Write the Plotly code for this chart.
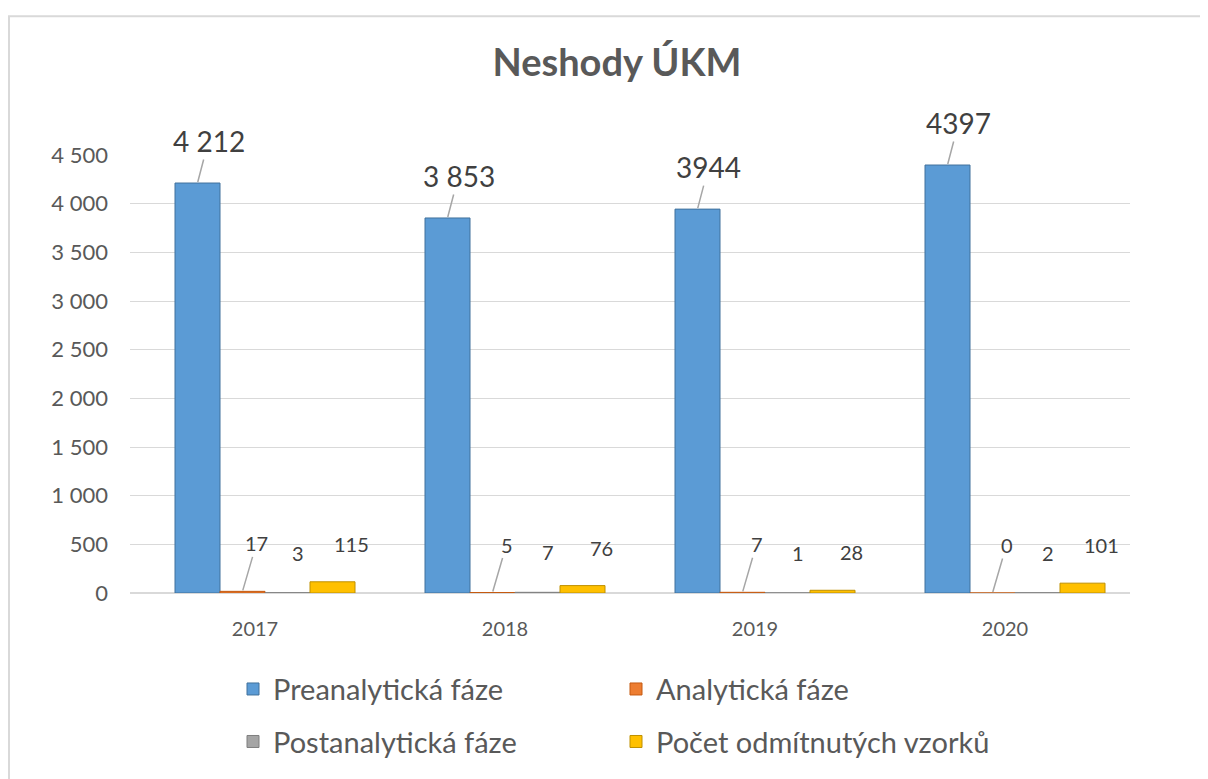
"""
Neshody ÚKM - clustered column chart recreated with Plotly
"""
import plotly.graph_objects as go

years = ['2017', '2018', '2019', '2020']
series_names = ['Preanalytická fáze', 'Analytická fáze',
                'Postanalytická fáze', 'Počet odmítnutých vzorků']
preanalyticka = [4212, 3853, 3944, 4397]
analyticka = [17, 5, 7, 0]
postanalyticka = [3, 7, 1, 2]
odmitnute = [115, 76, 28, 101]
# labels as printed in the source chart
preanalyticka_labels = ['4 212', '3 853', '3944', '4397']
y_ticks = [0, 500, 1000, 1500, 2000, 2500, 3000, 3500, 4000, 4500]

values = [preanalyticka, analyticka, postanalyticka, odmitnute]
labels = [preanalyticka_labels,
          [str(v) for v in analyticka],
          [str(v) for v in postanalyticka],
          [str(v) for v in odmitnute]]

colors = ['#5B9BD5', '#ED7D31', '#A5A5A5', '#FFC000']
edge_colors = ['#41719C', '#C55A11', '#7F7F7F', '#BF9000']
FONT = 'Lato'
TXT = '#595959'

# the page body adds an 8px margin, so the figure is a bit smaller
OFF = 8
W, H = 1208 - OFF, 779 - OFF
# plot area edges, in screen pixels
L, R, T, B = 130, 1130, 155, 597
PW, PH = R - L, B - T


def px_x(p):
    return (p - L) / PW


def px_y(p):
    return (B - p) / PH


# bar layout inside a category (category units); group nudged right a little
BAR_W = 0.18
GROUP_START = -0.36 + 0.04

fig = go.Figure()
legend_ids = ['legend', 'legend2', 'legend3', 'legend4']
for s, (name, vals, col, edge, lg) in enumerate(zip(series_names, values, colors,
                                                     edge_colors, legend_ids)):
    fig.add_trace(go.Bar(
        x=years, y=vals, name=name, legend=lg, showlegend=True,
        width=BAR_W, offset=GROUP_START + s * BAR_W,
        marker=dict(color=col, line=dict(color=edge, width=1)),
        hovertemplate='%{x}: %{y}<extra>' + name + '</extra>'
    ))

# data labels with leader lines (offsets in pixels)
cat_w = PW / len(years)
shifts = [(GROUP_START + (s + 0.5) * BAR_W) * cat_w for s in range(4)]
label_style = [
    dict(ax=11, ay=-42, size=28, arrow='#A6A6A6'),
    dict(ax=14, ay=-48, size=20, arrow='#A6A6A6'),
    dict(ax=10, ay=-40, size=20, arrow='rgba(0,0,0,0)'),
    dict(ax=19, ay=-38, size=20, arrow='rgba(0,0,0,0)'),
]
for s, (vals, labs) in enumerate(zip(values, labels)):
    st = label_style[s]
    for i, (v, lab) in enumerate(zip(vals, labs)):
        # x is the category index on the category axis
        fig.add_annotation(
            x=i, y=v, text=lab, xshift=shifts[s],
            showarrow=True, arrowhead=0, arrowwidth=1.5, arrowcolor=st['arrow'],
            ax=st['ax'], ay=st['ay'], standoff=1,
            font=dict(family=FONT, size=st['size'], color='#404040')
        )

legend_pos = [(233, 694), (616, 694), (233, 747), (616, 747)]
legend_cfg = {}
for lg, (lx, ly) in zip(legend_ids, legend_pos):
    legend_cfg[lg] = dict(
        x=px_x(lx), y=px_y(ly), xanchor='left', yanchor='middle',
        orientation='h', bgcolor='rgba(0,0,0,0)',
        font=dict(family=FONT, size=29, color=TXT)
    )

fig.update_layout(
    width=W, height=H,
    margin=dict(l=L - OFF, r=W - (R - OFF), t=T - OFF, b=H - (B - OFF)),
    paper_bgcolor='white', plot_bgcolor='white',
    showlegend=True,
    title=dict(text='<b>Neshody ÚKM</b>', x=(617 - OFF) / W, xanchor='center',
               y=1 - (63 - OFF) / H, yanchor='middle',
               font=dict(family=FONT, size=38, color=TXT)),
    barmode='overlay',
    separators=', ',
    font=dict(family=FONT, color=TXT),
    **legend_cfg
)
fig.update_yaxes(
    range=[0, 4500], tickvals=y_ticks, separatethousands=True,
    showgrid=True, gridcolor='#D9D9D9', gridwidth=1,
    zeroline=True, zerolinecolor='#D9D9D9', zerolinewidth=2,
    tickfont=dict(family=FONT, size=22, color=TXT),
    ticks='', ticklabelstandoff=21, showline=False
)
fig.update_xaxes(
    type='category', range=[-0.5, len(years) - 0.5],
    tickfont=dict(family=FONT, size=20, color=TXT),
    ticks='', ticklabelstandoff=22, showline=False
)

# light chart frame (only top and left edges are visible in the source)
fig.add_shape(type='rect', xref='paper', yref='paper',
              x0=px_x(9), x1=px_x(1240), y0=px_y(800), y1=px_y(15),
              line=dict(color='#D9D9D9', width=2), layer='below')

fig.write_html('out.html')
